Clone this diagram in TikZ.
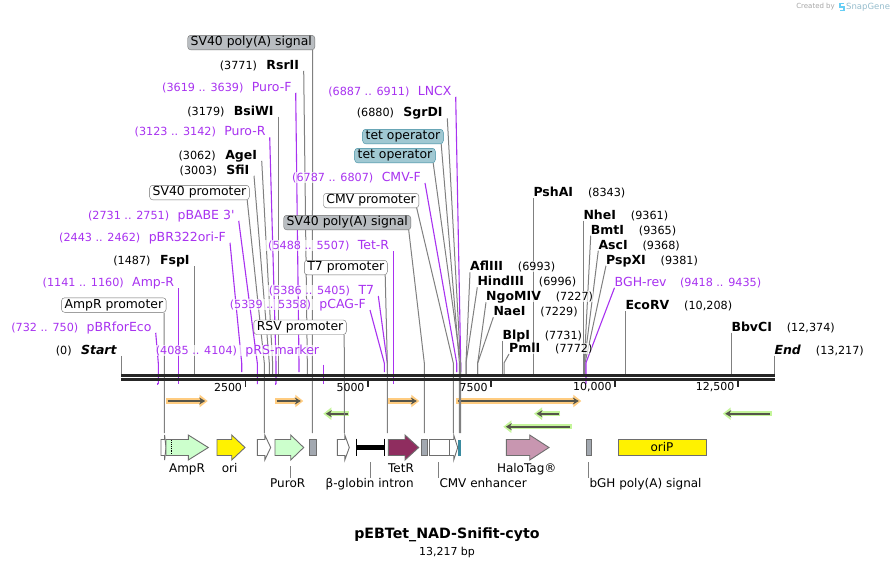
\documentclass[tikz,border=0pt]{standalone}
\usepackage{fontspec}
\setmainfont{DejaVu Sans}[Ligatures=TeXOff]
\usetikzlibrary{positioning,backgrounds,arrows.meta}
\definecolor{primerpurple}{HTML}{A832F0}
\definecolor{leadgray}{HTML}{808080}
\definecolor{featedge}{HTML}{6E6E6E}
\definecolor{tetfill}{HTML}{A0C8D2}
\definecolor{tetedge}{HTML}{3A8BA0}
\definecolor{pafill}{HTML}{B9BDC1}
\definecolor{paplain}{HTML}{A2A8B0}
\definecolor{orfdark}{HTML}{55554A}
\definecolor{orforange}{HTML}{FFCC80}
\definecolor{orfgreen}{HTML}{C4F59A}
\definecolor{tetrfill}{HTML}{8F2D5F}
\definecolor{halofill}{HTML}{C896B0}
\definecolor{resistfill}{HTML}{CCFFCC}
\tikzset{
    halo/.style={fill=white, fill opacity=0.7, text opacity=1, inner ysep=0pt, text height=9.5pt, text depth=1.2pt},
    enzname/.style={halo, font=\fontsize{12.5}{14}\selectfont\bfseries},
    enznum/.style={halo, font=\fontsize{11.2}{14}\selectfont},
    primername/.style={halo, text=primerpurple, font=\fontsize{12.5}{14}\selectfont},
    primernum/.style={halo, text=primerpurple, font=\fontsize{11.2}{14}\selectfont},
    featbox/.style={draw=featedge, fill=white, rounded corners=3pt, inner xsep=3pt, inner ysep=0pt,
        minimum height=14.5pt, text height=9pt, text depth=2.5pt, font=\fontsize{12.4}{14}\selectfont},
    graybox/.style={featbox, fill=pafill},
    tetbox/.style={featbox, fill=tetfill, draw=tetedge},
    leader/.style={draw=leadgray, line width=1pt},
    primerline/.style={draw=primerpurple, line width=1.1pt},
    feat/.style={draw=featedge, line width=0.9pt},
    featlabel/.style={inner sep=0pt, text height=9pt, text depth=2.5pt, font=\fontsize{12}{14}\selectfont},
    ticklabel/.style={inner sep=0pt, font=\fontsize{11}{14}\selectfont},
    orfband/.style={line width=5.5pt, -{Triangle[length=8pt,width=12pt]}},
    orfline/.style={draw=orfdark, line width=1.8pt, shorten <=1.5pt, shorten >=2.5pt, -{Stealth[length=6pt,width=7pt]}},
}
\begin{document}
\begin{tikzpicture}[x=1pt, y=-1pt]
    \useasboundingbox (0,0) rectangle (896,566);
    \begin{scope}[on background layer]
        \fill[white] (0,0) rectangle (896,566);
        % translated frames
        \foreach \xa/\xb/\yy/\col in {
            166/207.7/401/orforange, 275/303.3/401/orforange, 388/419.3/401/orforange, 456/581.3/401/orforange,
            349/323.3/413.7/orfgreen, 560/534/413.7/orfgreen,
            771.7/722.7/413.7/orfgreen, 571.7/503.3/426.7/orfgreen} {
            \draw[orfband, draw=\col, fill=\col] (\xa,\yy) -- (\xb,\yy);
            \draw[orfline] (\xa,\yy) -- (\xb,\yy);
        }
    \end{scope}

    % enzymes on the left of their line
    \foreach \id/\lbl/\num/\tx/\ty/\bx in {
        rsrii/RsrII/(3771)/303.7/70.7/307.3,
        bsiwi/BsiWI/(3179)/278.3/116.7/278.3,
        agei/AgeI/(3062)/261.7/160.7/272.6,
        sfii/SfiI/(3003)/254/175.7/269.3,
        fspi/FspI/(1487)/194.3/266/194.3,
        sgrdi/SgrDI/(6880)/447.3/118.3/460.5,
        start/\textit{Start}/(0)/121.7/355.7/121.7
    } {
        \node[enzname, inner xsep=4.5pt, anchor=south east] (\id) at (\tx,\ty) {\lbl};
        \node[enznum, inner xsep=4.5pt, left=0pt of \id] (\id-num) {\num};
        \coordinate (\id-b) at (\bx,363);
        \coordinate (\id-e) at (\bx,375);
        \begin{scope}[on background layer]
            \draw[leader] (\id.south east) -- (\id-b) -- (\id-e);
        \end{scope}
    }

    % enzymes on the right of their line
    \foreach \id/\lbl/\num/\tx/\ty/\bx in {
        pshai/PshAI/(8343)/533.3/198/533.3,
        nhei/NheI/(9361)/583.3/220.7/583.3,
        bmti/BmtI/(9365)/590.7/235.7/584.3,
        asci/AscI/(9368)/598.3/250.7/584.3,
        pspxi/PspXI/(9381)/606/265.7/585,
        aflii/AflIII/(6993)/470/272.3/466,
        hindiii/HindIII/(6996)/477.3/287.3/466,
        ngomiv/NgoMIV/(7227)/486/302.3/477.7,
        naei/NaeI/(7229)/493.3/317.3/477.7,
        blpi/BlpI/(7731)/502.3/340.7/502.3,
        pmli/PmlI/(7772)/509/354/504,
        ecorv/EcoRV/{(10,208)}/625.3/311/625.3,
        bbvci/BbvCI/{(12,374)}/731.3/332.7/731.3,
        endpos/\textit{End}/{(13,217)}/774.3/355.7/774.3
    } {
        \node[enzname, inner xsep=0pt, anchor=south west] (\id) at (\tx,\ty) {\lbl};
        \node[enznum, inner xsep=0pt, right=14.5pt of \id] (\id-num) {\num};
        \coordinate (\id-b) at (\bx,363);
        \coordinate (\id-e) at (\bx,375);
        \begin{scope}[on background layer]
            \draw[leader] (\id.south west) -- (\id-b) -- (\id-e);
        \end{scope}
    }

    % primers
    \foreach \id/\lbl/\num/\tx/\ty/\bx/\endy in {
        purof/Puro-F/(3619 .. 3639)/295.7/92.7/299/372,
        puror/Puro-R/(3123 .. 3142)/269.7/137.3/276/384,
        pbabe/pBABE 3'/(2731 .. 2751)/238.7/220.7/257.3/384,
        pbrori/pBR322ori-F/(2443 .. 2462)/230/242.7/241.7/372,
        ampr/Amp-R/(1141 .. 1160)/178.3/288.3/178.3/384,
        pbrfor/pBRforEco/(732 .. 750)/155.7/332.7/158.3/384,
        cmvf/CMV-F/(6787 .. 6807)/425/183/456.7/372,
        lncx/LNCX/(6887 .. 6911)/455.7/96.7/460.7/372,
        tetr/Tet-R/(5488 .. 5507)/393.3/251/393.3/384,
        tseven/T7/(5386 .. 5405)/378.3/296/387.3/372,
        pcagf/pCAG-F/(5339 .. 5358)/370/310/384.3/372
    } {
        \node[primername, inner xsep=4pt, anchor=south east] (\id) at (\tx,\ty) {\lbl};
        \node[primernum, inner xsep=4pt, left=0pt of \id] (\id-num) {\num};
        \coordinate (\id-b) at (\bx,363);
        \coordinate (\id-e) at (\bx,\endy);
        \begin{scope}[on background layer]
            \draw[primerline] (\id.south east) -- (\id-b) -- (\id-e);
        \end{scope}
    }
    \node[primername, inner xsep=4pt, anchor=south east] (prsm) at (323.3,355.7) {pRS-marker};
    \node[primernum, inner xsep=4pt, left=0pt of prsm] (prsm-num) {(4085 .. 4104)};
    \coordinate (prsm-b) at (323.3,364.5);
    \coordinate (prsm-e) at (323.3,384);
    \node[primername, inner xsep=0pt, anchor=south west] (bghrev) at (614.5,287.7) {BGH-rev};
    \node[primernum, inner xsep=0pt, right=13pt of bghrev] (bghrev-num) {(9418 .. 9435)};
    \coordinate (bghrev-b) at (586,362.7);
    \coordinate (bghrev-e) at (586,384);
    \begin{scope}[on background layer]
        \draw[primerline] (prsm-b) -- (prsm-e);
        \draw[primerline] (bghrev.south west) -- (bghrev-b) -- (bghrev-e);
        \draw[primerline] (puror-e) -- ++(-1,0);
        \draw[primerline] (pbrfor-e) -- ++(-1,0);
    \end{scope}

    % boxed features
    \foreach \id/\lbl/\boxstyle/\rx/\by/\bx in {
        siganea/SV40 poly(A) signal/graybox/315/50/312.3,
        sigaeb/SV40 poly(A) signal/graybox/411/230/424.3,
        tetopa/tet operator/tetbox/443.5/144/459.4,
        tetopb/tet operator/tetbox/435.5/163/460.6,
        svprom/SV40 promoter/featbox/249.5/200/264.3,
        cmvprom/CMV promoter/featbox/419/208/453.3,
        tsprom/T7 promoter/featbox/387.5/275/387.3,
        ampprom/AmpR promoter/featbox/166.3/312.5/164.3,
        rsvprom/RSV promoter/featbox/346.5/334.7/344.3
    } {
        \node[\boxstyle, anchor=south east] (\id) at (\rx,\by) {\lbl};
        \coordinate (\id-b) at (\bx,363);
        \coordinate (\id-e) at (\bx,433);
        \begin{scope}[on background layer]
            \draw[leader] ([xshift=-2.3pt]\id.south east) -- (\id-b) -- (\id-e);
        \end{scope}
    }

    % backbone and ruler
    \fill[black!85] (121,374) rectangle (775,377.3);
    \fill[black!85] (121,378.2) rectangle (775,380.7);
    \foreach \x/\lbl/\tickid in {245.5/2500/ta, 368/5000/tb, 491/7500/tc, 615/{10,000}/td, 737.8/{12,500}/te} {
        \draw[line width=1.5pt, black!85] (\x,381) -- (\x,387);
        \node[ticklabel, anchor=east] (\tickid) at (\x-3.3,387) {\lbl};
    }

    % feature arrows
    \foreach \xa/\xb/\xc/\col in {
        161/164.6/166/white, 166/188.3/208.3/resistfill, 217/231.7/245/yellow,
        257.3/264.8/270.7/white, 275/290.7/303.7/resistfill, 337.3/344.8/349.3/white,
        449/453.7/457.7/white, 388.3/405/418.7/tetrfill, 506.3/529.7/549/halofill} {
        \draw[feat, fill=\col] (\xa,439.5) -- (\xb,439.5) -- (\xb,435) -- (\xc,447.5)
            -- (\xb,460) -- (\xb,455.5) -- (\xa,455.5) -- cycle;
    }
    \draw[black, densely dotted, line width=0.9pt] (171.5,440) -- (171.5,455);
    \foreach \xa/\xb/\col in {309/316.7/paplain, 421.3/427.7/paplain, 429/449/white, 586.3/591.7/paplain} {
        \draw[feat, fill=\col] (\xa,439.5) rectangle (\xb,455.5);
    }
    \fill[tetedge] (458,439.5) rectangle (460.8,455.5);
    \node[feat, fill=yellow, inner sep=0pt, minimum width=88pt, minimum height=16pt,
        font=\fontsize{12}{14}\selectfont] (orip) at (662,447.5) {oriP};
    \fill[black] (356.3,445) rectangle (384.5,450);
    \draw[black, line width=0.9pt] (356.3,438.5) -- (356.3,456) (384.5,438.5) -- (384.5,456);

    % feature labels
    \node[featlabel] (amprl) at (187,469) {AmpR};
    \node[featlabel] (oril) at (229.6,469) {ori};
    \node[featlabel] (tetrl) at (401,469) {TetR};
    \node[featlabel] (halol) at (526.7,469) {HaloTag®};
    \node[featlabel, anchor=north] (purorl) at (287.7,478) {PuroR};
    \node[featlabel, anchor=north] (introl) at (369.7,478) {β-globin intron};
    \node[featlabel, anchor=north west] (enhl) at (439.3,478) {CMV enhancer};
    \node[featlabel, anchor=north west] (bghl) at (589.3,478) {bGH poly(A) signal};
    \foreach \id/\x/\yy in {purorl/290.3/466, introl/370.3/462, enhl/438.3/462, bghl/588.3/462} {
        \coordinate (\id-t) at (\x,\yy);
        \draw[leader] (\id-t) -- (\id-t |- \id.north);
    }

    % title
    \node[inner sep=0pt, font=\fontsize{14.2}{16}\selectfont\bfseries] (title) at (447,535) {pEBTet\_NAD-Snifit-cyto};
    \node[inner sep=0pt, font=\fontsize{11}{13}\selectfont, below=4.5pt of title] (size) {13,217 bp};

    % corner mark
    \node[inner sep=0pt, anchor=east, text=black!35, font=\fontsize{7}{8}\selectfont] (madeby) at (835,7) {Created by};
    \node[inner sep=0pt, anchor=west, text=cyan!40!gray!70, font=\fontsize{8.5}{9}\selectfont] (maker) at (846,7) {SnapGene};
    \draw[cyan!60, line width=1.5pt] (844,3.5) -- (840,3.5) -- (840,7) -- (844,7) -- (844,10.5) -- (840,10.5);
\end{tikzpicture}
\end{document}
